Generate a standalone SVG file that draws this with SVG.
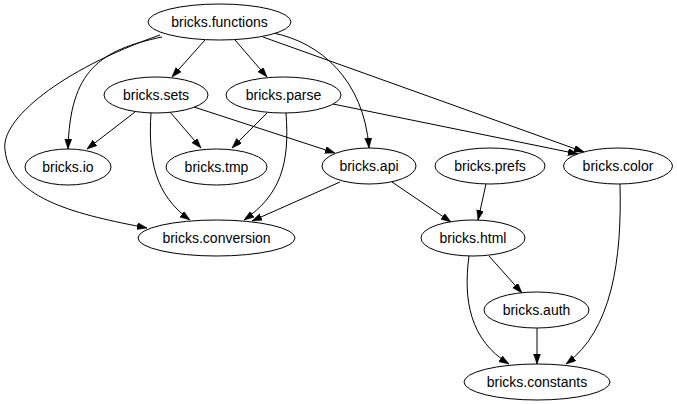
<svg xmlns="http://www.w3.org/2000/svg" width="677" height="404" viewBox="0 0 677 404">
<style>
.n ellipse{fill:#fff;stroke:#000;stroke-width:1}
.n text{font-family:"Liberation Sans",Arial,sans-serif;font-size:14px;text-anchor:middle;fill:#000}
.e path{fill:none;stroke:#000;stroke-width:1;marker-end:url(#ah)}
</style>
<defs>
<marker id="ah" markerUnits="userSpaceOnUse" markerWidth="11" markerHeight="8" refX="10" refY="3.5" orient="auto">
<path d="M0,0 L10,3.5 L0,7 z" fill="#000" stroke="#000" stroke-width="0.5"/>
</marker>
</defs>
<rect width="677" height="404" fill="#fff"/>
<g id="edges" class="e">
<path d="M205,40 L172,77"/>
<path d="M235,40 L267,77"/>
<path d="M162,37 C100,50 70,70 68,149"/>
<path d="M160,35 C60,70 0,120 5,150 C10,200 80,215 147,228"/>
<path d="M273,33 C320,42 364,80 369,148"/>
<path d="M263,37 L584,152"/>
<path d="M135,112 L87,149"/>
<path d="M170,112 L201,148"/>
<path d="M151,113 C148,160 155,195 190,220"/>
<path d="M194,107 L335,153"/>
<path d="M267,113 L232,148"/>
<path d="M286,113 C290,165 280,195 244,220"/>
<path d="M333,104 L578,154"/>
<path d="M340,182 L252,221"/>
<path d="M392,182 L451,222"/>
<path d="M486,184 L478,220"/>
<path d="M620,184 C622,260 612,330 566,364"/>
<path d="M489,256 L522,293"/>
<path d="M469,256 C463,300 470,340 509,364"/>
<path d="M537,328 L537,364"/>
</g>
<g id="bricks.functions" class="n"><ellipse cx="219.5" cy="22" rx="71.5" ry="18"/><text x="219.5" y="27">bricks.functions</text></g>
<g id="bricks.sets" class="n"><ellipse cx="156" cy="95" rx="52" ry="18"/><text x="156" y="100">bricks.sets</text></g>
<g id="bricks.parse" class="n"><ellipse cx="283.5" cy="95" rx="57.5" ry="18"/><text x="283.5" y="100">bricks.parse</text></g>
<g id="bricks.io" class="n"><ellipse cx="68" cy="167" rx="43" ry="18"/><text x="68" y="172">bricks.io</text></g>
<g id="bricks.tmp" class="n"><ellipse cx="216.5" cy="167" rx="50.5" ry="18"/><text x="216.5" y="172">bricks.tmp</text></g>
<g id="bricks.api" class="n"><ellipse cx="369" cy="166" rx="47" ry="18"/><text x="369" y="171">bricks.api</text></g>
<g id="bricks.prefs" class="n"><ellipse cx="490" cy="166" rx="55" ry="18"/><text x="490" y="171">bricks.prefs</text></g>
<g id="bricks.color" class="n"><ellipse cx="618" cy="166" rx="54.5" ry="18"/><text x="618" y="171">bricks.color</text></g>
<g id="bricks.conversion" class="n"><ellipse cx="216.5" cy="238" rx="78.5" ry="18"/><text x="216.5" y="243">bricks.conversion</text></g>
<g id="bricks.html" class="n"><ellipse cx="473" cy="238" rx="52" ry="18"/><text x="473" y="243">bricks.html</text></g>
<g id="bricks.auth" class="n"><ellipse cx="536.5" cy="310" rx="52.5" ry="18"/><text x="536.5" y="315">bricks.auth</text></g>
<g id="bricks.constants" class="n"><ellipse cx="537" cy="382" rx="73" ry="18"/><text x="537" y="387">bricks.constants</text></g>
</svg>
